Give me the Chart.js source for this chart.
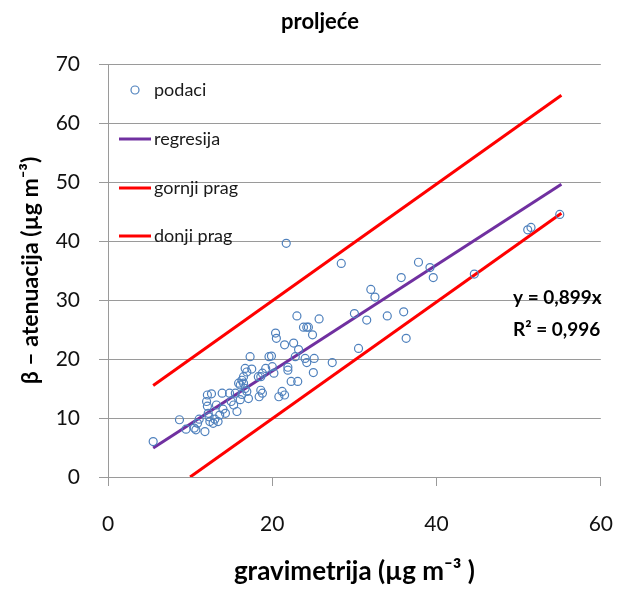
<!DOCTYPE html>
<html>
<head>
<meta charset="utf-8">
<script src="https://cdn.jsdelivr.net/npm/chart.js@4.4.0/dist/chart.umd.min.js"></script>
<style>
html, body { margin: 0; padding: 0; background: #fff; }
</style>
</head>
<body>
<canvas id="chart1" width="639" height="589"></canvas>
<script>
// mjerenja (gravimetrija, beta atenuacija)
let podaciX = [5.5, 8.7, 9.5, 10.5, 10.7, 10.9, 11.1, 11.8, 12.1, 12.0, 12.1, 12.6, 12.2, 12.3, 12.4, 12.8, 13.0, 13.2, 13.4, 13.6,
    13.9, 14.0, 14.3, 14.8, 15.0, 15.3, 15.7, 16.1, 16.3, 16.1, 16.5, 16.9, 17.1, 15.5, 20.4, 20.5, 21.5, 17.3, 19.6, 19.9,
    16.7, 16.9, 17.5, 18.8, 19.2, 20.0, 20.2, 18.3, 18.6, 21.9, 22.3, 16.5, 16.3, 15.9, 16.7, 18.6, 18.8, 18.4, 21.2, 21.5,
    20.8, 23.0, 25.7, 23.8, 24.2, 24.4, 24.9, 22.6, 23.2, 22.8, 24.0, 24.2, 25.1, 27.3, 21.9, 28.4, 37.8, 39.2, 39.6, 35.7,
    32.0, 32.5, 30.0, 31.5, 34.0, 36.0, 36.3, 30.5, 55.0, 51.1, 51.5, 44.6, 21.7, 23.1, 25.0];
let podaciY = [6.0, 9.7, 8.1, 8.3, 8.0, 9.1, 9.8, 7.7, 13.9, 12.8, 12.0, 14.1, 10.8, 10.2, 9.4, 9.1, 9.8, 12.2, 9.4, 10.5,
    14.2, 11.5, 10.8, 14.2, 12.8, 12.2, 11.1, 13.1, 14.0, 15.6, 15.9, 14.5, 13.3, 14.2, 24.4, 23.5, 22.4, 20.4, 20.4, 20.5,
    18.4, 17.8, 18.3, 17.6, 18.4, 18.7, 17.6, 17.0, 17.0, 18.1, 16.2, 17.0, 16.4, 15.9, 15.0, 14.7, 14.2, 13.6, 14.5, 13.9,
    13.6, 27.3, 26.8, 25.4, 25.4, 25.4, 24.1, 22.7, 21.6, 20.4, 20.1, 19.4, 20.1, 19.4, 18.6, 36.2, 36.4, 35.5, 33.8, 33.8,
    31.8, 30.5, 27.7, 26.6, 27.3, 28.0, 23.5, 21.8, 44.5, 41.9, 42.3, 34.4, 39.6, 16.2, 17.7];

let regresijaX = [5.5, 55.2];
let regresijaY = [4.9, 49.6];
let gornjiX = [5.5, 55.2];
let gornjiY = [15.5, 64.7];
let donjiX = [10.0, 55.2];
let donjiY = [0, 44.7];

let naslov = "proljeće";
let nazivi = ["podaci", "regresija", "gornji prag", "donji prag"];
let jednadzba = ["y = 0,899x", "R² = 0,996"];
let osX = "gravimetrija (µg m⁻³ )";
let osY = "β – atenuacija (µg m⁻³)";

function tocke(xs, ys) {
    let out = [];
    for (let i = 0; i < xs.length; i++) {
        out.push({ x: xs[i], y: ys[i] });
    }
    return out;
}

const plava = "#4f81bd";
const ljubicasta = "#7030a0";
const crvena = "#ff0000";
const siva = "#9a9a9a";
const font = "Lato, 'Open Sans', sans-serif";

// legenda i tekst unutar grafa
const natpisi = {
    id: "natpisi",
    afterDraw(chart) {
        let c = chart.ctx;
        c.save();
        c.fillStyle = "#000";
        c.textBaseline = "middle";
        c.textAlign = "center";
        c.font = "bold 22px " + font;
        c.fillText(naslov, 320, 22);

        c.textAlign = "left";
        c.font = "18px " + font;
        c.fillStyle = "#1a1a1a";
        let ly = [90, 139, 188, 236];
        let boje = [plava, ljubicasta, crvena, crvena];
        for (let i = 0; i < nazivi.length; i++) {
            if (i === 0) {
                c.beginPath();
                c.arc(135, ly[i], 4, 0, Math.PI * 2);
                c.strokeStyle = plava;
                c.lineWidth = 1.2;
                c.stroke();
            } else {
                c.beginPath();
                c.moveTo(119, ly[i]);
                c.lineTo(151, ly[i]);
                c.strokeStyle = boje[i];
                c.lineWidth = 3;
                c.stroke();
            }
            c.fillText(nazivi[i], 154, ly[i]);
        }

        c.font = "bold 19px " + font;
        c.fillStyle = "#000";
        c.fillText(jednadzba[0], 513, 298);
        c.fillText(jednadzba[1], 513, 330);
        c.restore();
    }
};

let ctx = document.getElementById("chart1").getContext("2d");

let chart1 = new Chart(ctx, {
    type: "scatter",
    data: {
        datasets: [
            {
                label: nazivi[0],
                data: tocke(podaciX, podaciY),
                pointStyle: "circle",
                pointRadius: 4,
                pointBorderWidth: 1.2,
                pointBorderColor: plava,
                pointBackgroundColor: "rgba(0,0,0,0)",
                order: 1
            },
            {
                label: nazivi[1],
                data: tocke(regresijaX, regresijaY),
                showLine: true,
                borderColor: ljubicasta,
                borderWidth: 3,
                pointRadius: 0,
                order: 2
            },
            {
                label: nazivi[2],
                data: tocke(gornjiX, gornjiY),
                showLine: true,
                borderColor: crvena,
                borderWidth: 3,
                pointRadius: 0,
                order: 3
            },
            {
                label: nazivi[3],
                data: tocke(donjiX, donjiY),
                showLine: true,
                borderColor: crvena,
                borderWidth: 3,
                pointRadius: 0,
                order: 4
            }
        ]
    },
    options: {
        responsive: false,
        animation: false,
        layout: { padding: { top: 64, right: 20, left: 0, bottom: 0 } },
        plugins: {
            legend: { display: false },
            tooltip: { enabled: false }
        },
        scales: {
            x: {
                type: "linear",
                min: 0,
                max: 60,
                ticks: { stepSize: 20, color: "#111", padding: 26, font: { family: font, size: 21 } },
                grid: { drawOnChartArea: false, drawTicks: true, tickLength: 9, color: siva },
                border: { display: true, color: siva },
                title: {
                    display: true,
                    text: osX,
                    color: "#000",
                    font: { family: font, size: 26, weight: "bold" },
                    padding: { top: 0, bottom: 2 }
                },
                afterFit(s) { s.height = 112; }
            },
            y: {
                type: "linear",
                min: 0,
                max: 70,
                ticks: { stepSize: 10, color: "#111", padding: 19, font: { family: font, size: 21 } },
                grid: { color: siva, tickLength: 9 },
                border: { display: true, color: siva },
                title: {
                    display: true,
                    text: osY,
                    color: "#000",
                    font: { family: font, size: 23, weight: "bold" },
                    padding: { top: 17, bottom: 0 }
                },
                afterFit(s) { s.width = 108; }
            }
        }
    },
    plugins: [natpisi]
});
</script>
</body>
</html>
